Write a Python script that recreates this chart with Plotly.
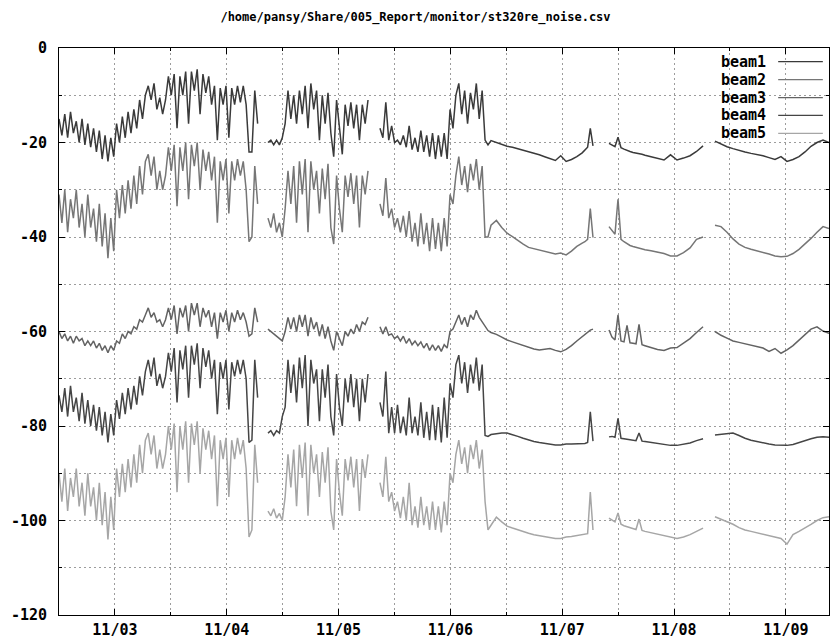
import plotly.graph_objects as go
import pandas as pd

TITLE = "/home/pansy/Share/005_Report/monitor/st320re_noise.csv"
BEAM_NAMES = ["beam1", "beam2", "beam3", "beam4", "beam5"]
BEAM_COLORS = ["#3a3a3a", "#767676", "#636363", "#454545", "#a6a6a6"]

# recording pieces (start, end, samples); gap_before -> break in the line
SEG_START = ["2012-11-02 12:00", "2012-11-04 08:51", "2012-11-05 08:53",
             "2012-11-06 08:43", "2012-11-07 04:52", "2012-11-07 10:02",
             "2012-11-07 19:03", "2012-11-08 08:47"]
SEG_END = ["2012-11-04 06:38", "2012-11-05 06:19", "2012-11-06 08:04",
           "2012-11-07 04:17", "2012-11-07 06:36", "2012-11-07 17:46",
           "2012-11-08 06:13", "2012-11-09 09:15"]
SEG_COUNT = [70, 36, 38, 18, 4, 13, 9, 20]
SEG_GAP_BEFORE = [False, True, True, False, False, True, False, True]

beam1 = [
    -15, -18.5, -14, -19, -13.5, -18, -15.5, -20, -15, -20.5,
    -16, -21, -17, -22, -17.5, -23.5, -18.5, -24, -19, -23,
    -16, -20, -14.5, -19, -13.5, -18, -13, -17, -11, -15,
    -10, -8, -11, -7.5, -13, -10.5, -14, -11, -6, -10,
    -5.5, -17, -6, -10, -5, -16, -5, -9, -4.5, -14,
    -5.5, -9.5, -6, -12, -8, -19.5, -8.5, -12, -8, -19,
    -8.5, -12, -8, -11.5, -8, -12, -22, -22, -9, -16,
    # B
    -20, -19.5, -20.5, -19.5, -20.5, -19, -16, -9, -15, -10,
    -16, -9, -14, -8, -17, -7.5, -13, -9, -19.5, -10,
    -16, -9.5, -18, -23, -11, -17, -22.5, -12, -16.5, -11.5,
    -17, -12, -19.5, -12, -16, -11,
    # C1
    -17, -19, -11.5, -19.5, -16.5, -20, -19.5, -20.5, -18.5, -21,
    -16.5, -21.5, -19, -22, -17.5, -22, -18.5, -23, -18, -23.5,
    -18.5, -23, -18, -23.5, -13, -17, -10, -7.5, -14, -9,
    -16, -9.5, -13, -7.5, -15, -9, -19.5, -20.5,
    # C2a
    -19.6, -20, -20.3, -20.8, -21, -21.3, -21.6, -21.9, -22.3, -22.6,
    -23, -23.4, -23.8, -22.8, -24, -23.6, -23, -22.2,
    # C2b
    -21.5, -21, -17, -20.7,
    # D1
    -20.2, -20.6, -20.9, -18.9, -21.1, -21.4, -21.7, -21.9, -22.1, -22.2,
    -22.4, -22.5, -22.7,
    # D2
    -23, -23.4, -23.7, -22.6, -23.7, -23.3, -22.8, -21.9, -20.7,
    # E
    -19.7, -20.3, -20.9, -21.3, -21.7, -22, -22.3, -22.5, -22.8, -23.2,
    -23.6, -23, -24, -23.6, -23, -22, -20.8, -20, -19.5, -20,
]

beam2 = [
    -31, -37, -30, -39, -32, -36, -30, -38, -33, -40,
    -31, -38, -34, -41, -33, -42, -35, -44.5, -36, -43,
    -30, -36, -29, -35, -28, -34, -27, -33, -25, -31,
    -24, -22.5, -27, -23, -30, -26, -30, -27, -21, -26,
    -20.5, -33.5, -21, -26, -20, -32, -20.5, -25, -20, -30,
    -21.5, -26, -22, -28, -23, -37, -24, -28, -23.5, -35,
    -24, -28, -23.5, -27, -24, -30, -41, -40, -25, -33,
    # B
    -36, -38, -35, -39, -37, -40, -34, -26, -33, -25,
    -37, -24, -31, -23.5, -39, -24, -30, -26, -35, -25.5,
    -32, -24.5, -38, -41.5, -27, -34, -39, -27, -31.5, -26.5,
    -33, -27, -38, -27, -31, -26,
    # C1
    -33, -35.5, -27.5, -36, -34, -38, -36, -39, -35.5, -40,
    -34.5, -41, -37, -42, -35, -41.5, -37, -43, -36, -42.5,
    -37, -43, -36, -42, -31, -33, -27, -23, -29, -25,
    -30.5, -24.5, -28, -23.5, -30, -25, -40, -40,
    # C2a
    -37.5, -36.5, -38, -39.2, -39.9, -40.8, -41.5, -42.2, -42.5, -42.7,
    -43, -43.3, -43.6, -43.4, -43.8, -43, -42, -41.3,
    # C2b
    -41, -40.5, -34, -40.1,
    # D1
    -37.8, -38.6, -39.4, -32, -40.5, -41, -41.5, -41.8, -42, -42.2,
    -42.4, -42.6, -42.7,
    # D2
    -42.9, -43.2, -43.5, -44, -44, -43.3, -42.3, -40.5, -40,
    # E
    -37.5, -37.8, -39, -40.4, -41.5, -42.2, -42.6, -42.9, -43.2, -43.6,
    -44, -44.2, -44.1, -43.5, -42.6, -41.5, -40.3, -39, -37.8, -38.2,
]

beam3 = [
    -60, -61.5, -60.5, -62, -61, -62.5, -61, -62, -61.5, -63,
    -62, -63, -62, -63.5, -62.5, -64, -63, -64.5, -63, -64,
    -62, -62.5, -60.5, -61.5, -60, -60.5, -59, -59.5, -57.5, -58,
    -56.5, -55, -57, -56, -58, -57.5, -59, -57.5, -55, -57.5,
    -54.5, -60.5, -55, -57, -54.5, -60, -54, -56.5, -54, -59,
    -55, -57, -55.5, -59, -56, -61.5, -56, -58, -55.5, -60,
    -56, -58, -55.5, -57.5, -56, -58, -61, -60.5, -55, -58,
    # B
    -59.5, -60, -60.5, -61, -61.5, -62, -60, -57, -59.5, -57,
    -60, -56.5, -59, -56.5, -61, -57, -59.5, -58, -61, -58.5,
    -61.5, -59, -62, -64, -60, -61.5, -63, -60, -61, -59.5,
    -60.5, -58.5, -60, -58, -58.5, -57,
    # C1
    -59, -60.5, -59, -60.8, -60.5, -61.5, -61, -62, -61, -62.5,
    -61.5, -62.8, -62, -63, -62.2, -63.5, -62.5, -64, -62.8, -64,
    -63, -64.2, -62.8, -63.5, -60, -59.5, -58, -56.5, -58.5, -57,
    -59, -56.5, -57.5, -55.5, -57, -58, -59, -59.8,
    # C2a
    -60.2, -60.6, -61.2, -61.8, -62.2, -62.6, -63, -63.4, -63.7, -63.9,
    -63.8, -63.6, -64, -64.3, -63.8, -63, -62, -61,
    # C2b
    -60.5, -60, -59.7, -59.5,
    # D1
    -59.7, -61.2, -61.8, -56.5, -62, -62.2, -58.7, -62.4, -62.5, -62.6,
    -58.5, -62.8, -63,
    # D2
    -63.4, -63.8, -64, -63.5, -63.4, -62.5, -61.5, -60.2, -59,
    # E
    -60, -60.8, -61.4, -62, -62.3, -62.6, -62.9, -63.1, -63.5, -64.2,
    -63.6, -64.6, -63.9, -63, -61.8, -60.6, -59.5, -59, -59.9, -60.4,
]

beam4 = [
    -73.5, -77, -72, -78, -71.5, -77, -74, -79, -73, -79.5,
    -74.5, -80, -75.5, -81, -76, -82, -77, -83.5, -77.5, -82,
    -74.5, -78.5, -73, -77.5, -72, -76.5, -71.5, -75.5, -69.5, -73.5,
    -68.5, -66, -69.5, -65.5, -71.5, -69, -72, -69.5, -64.5, -68.5,
    -63.5, -75, -64, -68, -63, -74, -63, -67, -62.5, -72,
    -63.5, -67.5, -64, -70, -66, -77.5, -66.5, -70, -66, -76.5,
    -66.5, -69.5, -66, -69, -66, -70, -83.5, -83, -66, -74,
    # B
    -81.5, -81, -82, -81, -81.5, -78, -76, -66, -73, -67,
    -75, -65.5, -72, -65, -80, -66, -71, -68, -79, -68,
    -74, -67, -78, -82, -69, -76, -80, -70, -75, -69,
    -76, -70, -79, -70, -75, -69,
    # C1
    -75, -78, -68.5, -81.5, -76, -81.5, -75.5, -81.5, -78, -82,
    -74, -81.5, -78, -82, -75, -82.5, -77, -83, -75.5, -83,
    -76, -83.5, -74, -82.5, -71, -74, -67, -65, -71, -66.5,
    -73, -67, -71, -65.5, -72.5, -67, -82, -82.2,
    # C2a
    -81.8, -81.6, -81.5, -81.5, -81.8, -82.2, -82.6, -83, -83.3, -83.5,
    -83.7, -83.8, -84, -84, -83.8, -83.8, -83.8, -83.7,
    # C2b
    -83.7, -83.5, -77, -83.2,
    # D1
    -82.3, -82.2, -82.4, -78.4, -82.6, -82.7, -82.7, -82.9, -83, -83.1,
    -81.5, -83.2, -83.3,
    # D2
    -83.5, -83.7, -83.9, -84.1, -84.1, -83.9, -83.6, -83.1, -82.7,
    # E
    -81.9, -81.8, -81.6, -81.5, -82, -82.6, -83, -83.3, -83.6, -83.8,
    -84, -84.1, -84.1, -83.9, -83.5, -83, -82.7, -82.4, -82.3, -82.4,
]

beam5 = [
    -90, -96, -89, -98, -91, -95, -89, -97, -92, -99,
    -90, -97, -93, -100, -92, -101, -94, -104, -95, -102,
    -89, -95, -88, -94, -87, -93, -86, -92, -84, -90,
    -83, -81.5, -86, -82, -89, -85, -89, -86, -80, -85,
    -79.5, -94, -80, -85, -79, -92, -79.5, -84, -79, -90,
    -80.5, -85, -81, -87, -82, -97, -83, -87, -82.5, -95,
    -83, -87, -82.5, -86, -83, -89, -103.5, -102, -84, -92,
    # B
    -98, -99, -97.5, -99.5, -98.5, -100, -95, -86, -93, -85,
    -97, -84, -91, -83.5, -99, -84, -90, -86, -95, -85.5,
    -92, -84.5, -98, -102, -87, -94, -99, -87, -91.5, -86.5,
    -93, -87, -98, -87, -91, -86,
    # C1
    -92, -95, -86.5, -96, -94, -98, -96, -99.5, -95, -100,
    -92, -101, -97, -101.5, -95, -101, -97, -102, -96, -102,
    -97, -102.5, -96, -101, -90, -92, -86, -83, -88, -84.5,
    -90, -84, -87, -83, -89, -85, -96, -102,
    # C2a
    -101, -99.3, -100.3, -101.2, -101.6, -102, -102.4, -102.7, -103, -103.2,
    -103.4, -103.6, -103.8, -103.8, -103.5, -103.4, -103.2, -103,
    # C2b
    -103, -102.8, -94, -102,
    # D1
    -99.5, -99.9, -100.3, -98.4, -100.8, -101.1, -101.3, -101.5, -101.7, -101.9,
    -99.7, -102.1, -102.3,
    # D2
    -102.6, -102.9, -103.2, -103.6, -103.8, -103.5, -103, -102.3, -101.6,
    # E
    -99.2, -99.7, -100.2, -100.8, -101.5, -102, -102.3, -102.6, -102.9, -103.2,
    -103.6, -103.8, -105, -103, -102.3, -101.6, -100.8, -100, -99.4, -99.2,
]

Y_TICKS = [-120, -100, -80, -60, -40, -20, 0]
Y_TICK_TEXT = ["-120", "-100", "-80", "-60", "-40", "-20", "0"]
Y_MINOR = [-110, -90, -70, -50, -30, -10]
X_RANGE = ["2012-11-02 12:00", "2012-11-09 09:15"]
X_TICK_DAYS = ["2012-11-03", "2012-11-04", "2012-11-05", "2012-11-06",
               "2012-11-07", "2012-11-08", "2012-11-09"]
X_TICK_TEXT = ["11/03", "11/04", "11/05", "11/06", "11/07", "11/08", "11/09"]
X_MINOR = ["2012-11-03 12:00", "2012-11-04 12:00", "2012-11-05 12:00",
           "2012-11-06 12:00", "2012-11-07 12:00", "2012-11-08 12:00"]


def build_series(values):
    xs, ys = [], []
    pos = 0
    for start, end, n, gap in zip(SEG_START, SEG_END, SEG_COUNT, SEG_GAP_BEFORE):
        seg_vals = values[pos:pos + n]
        pos += n
        times = pd.date_range(start, end, periods=len(seg_vals))
        if gap and xs:
            xs.append(None)
            ys.append(None)
        xs.extend(t.strftime("%Y-%m-%d %H:%M:%S") for t in times)
        ys.extend(seg_vals)
    return xs, ys


FONT = "DejaVu Sans Mono"
fig = go.Figure()
for name, color, vals in zip(BEAM_NAMES, BEAM_COLORS, [beam1, beam2, beam3, beam4, beam5]):
    xs, ys = build_series(vals)
    fig.add_trace(go.Scatter(x=xs, y=ys, mode="lines", name=name,
                             line=dict(color=color, width=1.5),
                             connectgaps=False, showlegend=False))

# gnuplot-style key: label then line sample, top right inside the plot
for i, (name, color) in enumerate(zip(BEAM_NAMES, BEAM_COLORS)):
    yk = 0.9758 - i * 0.0316
    fig.add_annotation(x=0.921, y=yk, xref="paper", yref="paper", text=name,
                       showarrow=False, xanchor="right", yanchor="middle",
                       font=dict(family=FONT, size=15, color="black", weight="bold"))
    fig.add_shape(type="line", xref="paper", yref="paper", x0=0.934, x1=0.992,
                  y0=yk, y1=yk, line=dict(color=color, width=1.2))

grid = dict(showgrid=True, gridcolor="#9c9c9c", griddash="2px,3px", gridwidth=1)
fig.update_layout(
    width=831, height=641,
    margin=dict(l=59, r=2, t=48, b=26, autoexpand=False),
    paper_bgcolor="white", plot_bgcolor="white",
    title=dict(text=TITLE, x=0.5, xref="container", y=1 - 17 / 641, yanchor="middle",
               xanchor="center",
               font=dict(family=FONT, size=12, color="black", weight="bold")),
    xaxis=dict(type="date", range=X_RANGE, tickmode="array", tickvals=X_TICK_DAYS,
               ticktext=X_TICK_TEXT, ticks="inside", ticklen=6, tickcolor="black",
               showline=True, linecolor="black", linewidth=1, mirror="allticks",
               zeroline=False, automargin=False, ticklabelstandoff=1,
               tickfont=dict(family=FONT, size=15, color="black", weight="bold"),
               minor=dict(tickmode="array", tickvals=X_MINOR, ticks="inside", ticklen=3,
                          tickcolor="black", **grid),
               **grid),
    yaxis=dict(range=[-120, 0], tickmode="array", tickvals=Y_TICKS, ticktext=Y_TICK_TEXT,
               ticks="inside", ticklen=6, tickcolor="black",
               showline=True, linecolor="black", linewidth=1, mirror="allticks",
               zeroline=False, automargin=False, ticklabelstandoff=8,
               tickfont=dict(family=FONT, size=15, color="black", weight="bold"),
               minor=dict(tickmode="array", tickvals=Y_MINOR, ticks="inside", ticklen=3,
                          tickcolor="black", **grid),
               **grid),
)

fig.write_html("out.html")
